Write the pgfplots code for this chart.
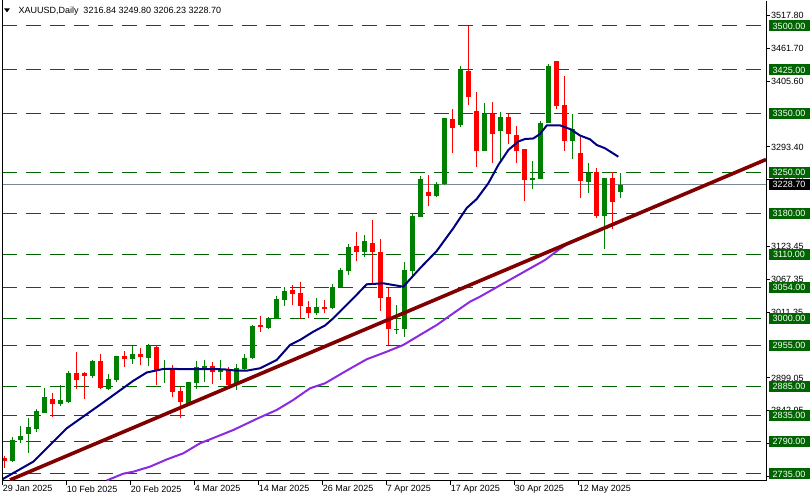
\documentclass[border=0pt]{standalone}
\usepackage{fontspec}
\setmainfont{Liberation Sans}
\usepackage{pgfplots}
\usepackage{pgfplotstable}
\pgfplotsset{compat=1.18}
\definecolor{cgreen}{RGB}{0,128,0}
\definecolor{cred}{RGB}{255,0,0}
\definecolor{lvl}{RGB}{0,100,0}
\definecolor{ma1}{RGB}{0,0,128}
\definecolor{ma2}{RGB}{138,43,226}
\definecolor{trend}{RGB}{128,0,0}
\definecolor{cur}{RGB}{119,136,153}

\pgfplotstableread{
k o h l c
1 2757.2 2797.7 2756.0 2793.1
2 2793.1 2817.0 2787.4 2799.9
3 2803.8 2830.6 2771.4 2814.7
4 2812.4 2846.0 2806.7 2842.6
5 2839.7 2881.3 2838.7 2866.5
7 2855.0 2886.5 2851.6 2861.4
8 2858.5 2910.4 2855.7 2907.5
11 2902.9 2930.2 2899.4 2928.0
13 2880.7 2905.8 2878.4 2896.7
14 2895.5 2936.5 2891.6 2936.5
16 2931.9 2953.6 2923.3 2939.9
18 2933.6 2956.5 2919.9 2954.1
20 2912.6 2929.7 2889.9 2916.0
23 2855.0 2892.6 2854.0 2891.6
24 2890.4 2928.0 2880.7 2917.7
25 2916.5 2929.7 2892.6 2919.4
27 2909.7 2929.7 2895.5 2913.8
29 2887.0 2922.3 2878.4 2915.5
30 2913.8 2939.9 2912.6 2933.1
31 2933.1 2988.9 2931.9 2987.2
33 2984.8 3002.6 2982.1 3001.4
34 2999.2 3039.5 2999.2 3033.8
35 3032.1 3053.8 3022.4 3047.5
39 3010.4 3035.0 3006.5 3019.6
41 3018.0 3058.9 3016.8 3054.8
42 3054.8 3087.3 3053.1 3082.8
43 3082.2 3127.2 3074.8 3122.1
45 3113.6 3143.1 3105.0 3133.4
49 2980.9 3023.6 2973.6 2982.6
50 2982.1 3097.5 2969.5 3082.8
51 3082.2 3178.5 3069.2 3175.6
52 3174.4 3244.4 3173.3 3238.7
54 3210.2 3233.1 3208.5 3229.7
55 3230.7 3342.4 3228.5 3342.4
57 3331.0 3431.7 3327.5 3424.9
60 3287.1 3369.0 3287.1 3349.2
62 3321.2 3353.2 3265.6 3344.1
66 3238.2 3269.5 3222.2 3240.5
67 3239.3 3337.8 3239.3 3334.4
68 3334.4 3435.1 3334.4 3431.7
71 3304.1 3349.2 3273.4 3324.1
73 3234.1 3266.1 3215.3 3249.5
75 3176.1 3240.5 3119.7 3240.5
77 3216.84 3249.80 3206.23 3228.70
}\greentab

\pgfplotstableread{
k o h l c
0 2762.8 2765.7 2745.2 2757.7
6 2862.6 2873.3 2832.8 2855.0
9 2907.5 2943.3 2880.7 2896.0
10 2907.0 2909.2 2863.1 2902.9
12 2928.0 2939.9 2880.7 2882.4
15 2936.5 2945.5 2918.2 2931.9
17 2939.9 2949.6 2920.6 2935.3
19 2951.9 2954.1 2887.0 2912.6
21 2913.8 2921.1 2867.0 2875.5
22 2876.7 2884.1 2831.1 2858.5
26 2919.4 2926.8 2888.7 2909.7
28 2912.6 2918.2 2884.1 2887.0
32 2989.4 3004.8 2978.0 2986.5
36 3049.2 3057.7 3023.6 3042.9
37 3044.1 3062.9 2999.2 3022.4
38 3019.6 3030.9 3000.9 3010.4
40 3019.6 3032.1 3010.4 3018.5
44 3123.8 3147.7 3099.2 3113.6
46 3128.9 3168.7 3060.6 3113.6
47 3113.6 3136.3 3013.3 3036.0
48 3036.7 3053.1 2955.3 2982.1
53 3216.0 3245.1 3193.1 3210.2
56 3340.7 3358.3 3283.6 3326.3
58 3423.7 3500.0 3365.1 3379.3
59 3354.9 3387.8 3259.7 3287.1
61 3349.2 3370.2 3265.6 3315.6
63 3344.6 3349.2 3298.5 3316.1
64 3313.9 3329.2 3266.6 3287.1
65 3290.0 3290.0 3201.7 3237.5
69 3440.2 3440.2 3358.8 3363.9
70 3365.1 3414.6 3287.1 3304.1
72 3283.1 3310.0 3206.3 3235.8
74 3250.7 3257.0 3171.6 3176.1
76 3240.5 3250.7 3153.9 3200.0
}\redtab

\pgfplotstableread{
k p
-0.25 2725.6
3.66 2756.0
7.84 2813.0
12.0 2853.2
16.16 2894.1
17.84 2908.3
19.91 2914.3
21.16 2914.3
27.41 2913.8
29.09 2911.4
30.34 2911.4
32.0 2915.5
34.09 2929.7
35.75 2955.3
37.0 2963.8
38.66 2978.0
40.13 2988.6
41.16 3000.9
43.66 3035.0
45.34 3058.9
47.41 3060.6
49.91 3054.8
52.0 3086.3
54.09 3115.8
56.16 3154.6
57.84 3189.2
59.09 3204.6
60.54 3231.4
61.79 3262.7
63.04 3288.3
64.29 3302.8
65.13 3307.0
66.16 3307.9
67.0 3315.6
67.84 3330.1
69.5 3330.4
70.88 3323.3
72.0 3313.0
73.25 3306.5
74.09 3296.8
75.13 3291.2
76.79 3276.8
}\blueMA

\pgfplotstableread{
k p
12.84 2723.9
14.91 2735.5
16.16 2738.9
18.25 2747.5
20.34 2759.8
22.41 2770.3
24.5 2787.4
26.59 2798.7
28.66 2810.1
31.75 2830.1
34.09 2844.3
36.16 2861.4
38.25 2881.3
40.13 2889.9
42.75 2910.9
45.34 2930.9
47.84 2943.8
49.91 2955.3
52.0 2972.4
54.09 2989.4
56.16 3009.4
58.25 3029.2
59.5 3037.8
62.0 3057.1
67.63 3100.4
69.29 3117.5
71.0 3132.9
}\purpleMA

\pgfplotsset{candle/.style={only marks, mark=*, mark size=0pt, mark options={draw=none, fill=none}, forget plot,
  error bars/.cd, y dir=both, y explicit, error mark=none}}

\begin{document}
\begin{tikzpicture}
\useasboundingbox (-2pt,-20pt) rectangle (810pt,481pt);
\begin{axis}[
  at={(0pt,0pt)}, anchor=south west,
  scale only axis, width=764pt, height=480pt,
  xmin=-0.25, xmax=95.25, ymin=2723.0, ymax=3542.7,
  enlargelimits=false, clip=true,
  axis x line*=bottom, axis y line*=right,
  axis line style={black, line width=1pt, -},
  tick align=outside, major tick length=3.5pt,
  tick style={black, line width=1pt},
  xtick={-0.16,7.84,15.84,23.84,31.84,39.84,47.84,55.84,63.84,71.84},
  xticklabels={29 Jan 2025,10 Feb 2025,20 Feb 2025,4 Mar 2025,14 Mar 2025,26 Mar 2025,7 Apr 2025,17 Apr 2025,30 Apr 2025,12 May 2025},
  xticklabel style={font=\fontsize{9}{10}\selectfont, anchor=north west, inner sep=0pt, yshift=-1pt},
  ytick={3517.80,3461.70,3405.60,3293.40,3237.30,3123.45,3067.35,3011.35,2899.05,2842.95,2786.85,2730.75},
  yticklabels={3517.80,3461.70,3405.60,3293.40,3237.30,3123.45,3067.35,3011.35,2899.05,2842.95,2786.85,2730.75},
  yticklabel style={font=\fontsize{9}{10}\selectfont, anchor=west, inner sep=0pt, xshift=1.5pt},
]
% horizontal levels
\pgfplotsinvokeforeach{3500,3425,3350,3250,3180,3110,3054,3000,2955,2885,2835,2790,2735}{
  \addplot[lvl, line width=1pt, dash pattern=on 15pt off 9pt, forget plot] coordinates {(-0.25,#1) (95.25,#1)};
  \coordinate (L#1) at (axis cs:95.25,#1);
}
% current price line
\addplot[cur, line width=1pt, forget plot] coordinates {(-0.25,3228.70) (95.25,3228.70)};
\coordinate (CUR) at (axis cs:95.25,3228.70);
% wicks
\addplot[candle, error bar style={cgreen, line width=1pt}]
  table[x=k, y expr={(\thisrow{h}+\thisrow{l})/2}, y error expr={(\thisrow{h}-\thisrow{l})/2}] {\greentab};
\addplot[candle, error bar style={cred, line width=1pt}]
  table[x=k, y expr={(\thisrow{h}+\thisrow{l})/2}, y error expr={(\thisrow{h}-\thisrow{l})/2}] {\redtab};
% bodies
\addplot[candle, error bar style={cgreen, line width=5pt}]
  table[x=k, y expr={(\thisrow{o}+\thisrow{c})/2}, y error expr={max(abs(\thisrow{c}-\thisrow{o})/2,0.5)}] {\greentab};
\addplot[candle, error bar style={cred, line width=5pt}]
  table[x=k, y expr={(\thisrow{o}+\thisrow{c})/2}, y error expr={max(abs(\thisrow{c}-\thisrow{o})/2,0.5)}] {\redtab};
% moving averages
\addplot[ma2, line width=2pt, forget plot] table[x=k, y=p] {\purpleMA};
\addplot[ma1, line width=2pt, forget plot] table[x=k, y=p] {\blueMA};
% trend line
\addplot[trend, line width=3.6pt, forget plot] coordinates {(0.75,2724.8) (95.25,3272.0)};
\end{axis}
% left border
\draw[black, line width=1pt] (0pt,0pt) -- (0pt,481pt);
% title
\fill[black] (2pt,472.7pt) -- (8pt,472.7pt) -- (5pt,468.7pt) -- cycle;
\node[anchor=base west, inner sep=0pt, font=\fontsize{9}{10}\selectfont] at (16.3pt,467pt) {XAUUSD,Daily\ \ 3216.84 3249.80 3206.23 3228.70};
% right price labels
\foreach \v in {3500,3425,3350,3250,3180,3110,3054,3000,2955,2885,2835,2790,2735}{
  \node[fill=lvl, text=white, anchor=west, inner sep=0pt, minimum width=41pt, minimum height=11pt, font=\fontsize{9}{10}\selectfont] at ([xshift=2.3pt]L\v) {\v.00};
}
\node[fill=black, text=white, anchor=west, inner sep=0pt, minimum width=41pt, minimum height=11pt, font=\fontsize{9}{10}\selectfont] at ([xshift=2.3pt]CUR) {3228.70};
\end{tikzpicture}
\end{document}
